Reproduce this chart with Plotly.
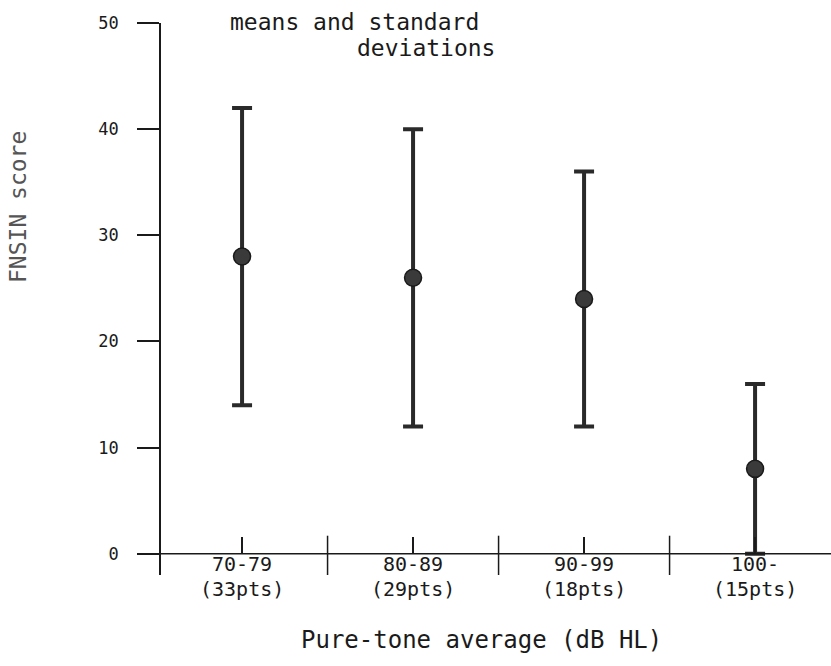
import plotly.graph_objects as go

categories = ["70-79", "80-89", "90-99", "100-"]
counts = ["(33pts)", "(29pts)", "(18pts)", "(15pts)"]
means = [28, 26, 24, 8]
sds = [14, 14, 12, 8]
y_ticks = [0, 10, 20, 30, 40, 50]

MONO = "DejaVu Sans Mono"
INK = "#1a1a1a"

W, H = 831, 666
L, R, T, B = 161, 0, 23, 91
plot_h = H - T - B
axis_pos = (21) / plot_h  # x axis sits at y=0

fig = go.Figure()
fig.add_trace(go.Scatter(
    x=categories, y=means, mode="markers",
    marker=dict(size=17, color="#3a3a3a", line=dict(color=INK, width=1.5)),
    error_y=dict(type="data", array=sds, symmetric=True,
                 thickness=4, width=10, color="#2a2a2a"),
    showlegend=False,
))

shapes = [
    dict(type="line", xref="paper", yref="y", x0=-0.024, x1=1, y0=0, y1=0,
         line=dict(color=INK, width=1.5)),
]
for i in range(len(categories) - 1):
    shapes.append(dict(type="line", xref="x", yref="y", x0=i + 0.5, x1=i + 0.5,
                       y0=-2, y1=1.7, line=dict(color=INK, width=1.5)))

annotations = []
for c, n in zip(categories, counts):
    annotations.append(dict(x=c, y=(H - B - 589) / plot_h, xref="x", yref="paper",
                            text=n, showarrow=False, xanchor="center", yanchor="middle",
                            font=dict(family=MONO, size=20, color=INK)))

annotations += [
    dict(x=(228 - L) / 670, y=(H - B - 22) / plot_h, xref="paper", yref="paper",
         text="means and standard", showarrow=False, xanchor="left", yanchor="middle",
         font=dict(family=MONO, size=23, color=INK)),
    dict(x=(355 - L) / 670, y=(H - B - 48) / plot_h, xref="paper", yref="paper",
         text="deviations", showarrow=False, xanchor="left", yanchor="middle",
         font=dict(family=MONO, size=23, color=INK)),
    dict(x=(481 - L) / 670, y=(H - B - 640) / plot_h, xref="paper", yref="paper",
         text="Pure-tone average (dB HL)", showarrow=False, xanchor="center", yanchor="middle",
         font=dict(family=MONO, size=24, color=INK)),
    dict(x=(18 - L) / 670, y=(H - B - 207) / plot_h, xref="paper", yref="paper",
         text="FNSIN score", showarrow=False, textangle=-90, xanchor="center", yanchor="middle",
         font=dict(family=MONO, size=23, color="#555555")),
]

fig.update_layout(
    width=W, height=H,
    margin=dict(l=L, r=R, t=T, b=B, pad=0),
    paper_bgcolor="white", plot_bgcolor="white",
    shapes=shapes, annotations=annotations,
    xaxis=dict(
        type="category", range=[-0.474, 3.444],
        anchor="free", position=axis_pos,
        showline=False, showgrid=False, zeroline=False,
        ticks="inside", ticklen=17, tickwidth=1.5, tickcolor=INK,
        tickvals=categories, ticktext=categories,
        ticklabelstandoff=-4,
        tickfont=dict(family=MONO, size=20, color=INK),
    ),
    yaxis=dict(
        range=[-2, 50], showgrid=False, zeroline=False,
        showline=True, linecolor=INK, linewidth=1.5,
        ticks="outside", ticklen=22, tickwidth=1.5, tickcolor=INK,
        tickvals=y_ticks, ticktext=[str(v) for v in y_ticks],
        ticklabelstandoff=15,
        tickfont=dict(family=MONO, size=17, color=INK),
    ),
)

fig.write_html("out.html")
